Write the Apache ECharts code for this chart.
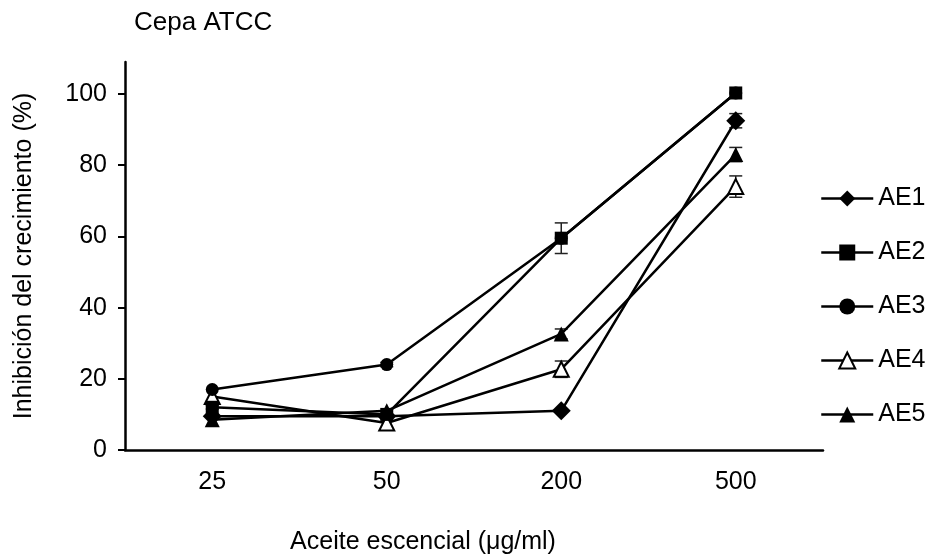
<!DOCTYPE html>
<html>
<head>
<meta charset="utf-8">
<script src="https://cdn.jsdelivr.net/npm/echarts@6/dist/echarts.min.js"></script>
<style>
html,body{margin:0;padding:0;background:#fff;}
#chart{width:933px;height:560px;}
</style>
</head>
<body>
<div id="chart"></div>
<script>
var doses = ['25', '50', '200', '500'];
var yTicks = [0, 20, 40, 60, 80, 100];

var ae1 = [9.5, 9.5, 11, 92.5];
var ae2 = [12, 10, 59.5, 100.3];
var ae3 = [17, 24, 59.5, 100.3];
var ae4 = [15, 7.6, 22.7, 74];
var ae5 = [8.5, 11, 32.6, 83];

// desviaciones (barras de error)
var ae1Err = [0, 0, 0, 2];
var ae2Err = [0.5, 0, 4.3, 0];
var ae3Err = [0, 0.6, 0, 0];
var ae4Err = [0, 0, 2.3, 3];
var ae5Err = [0, 0, 1.4, 2];

var font = 'Liberation Sans, Arial, sans-serif';

function lineSerie(name, data, symbol, size, fill, z){
	return {
		name: name,
		type: 'line',
		data: data,
		symbol: symbol,
		symbolSize: size,
		z: z,
		lineStyle: {color: '#000', width: 2.5},
		itemStyle: {color: fill, borderColor: '#000', borderWidth: fill == '#fff' ? 2 : 0},
		emphasis: {disabled: true},
		animation: false
	};
}

function errSerie(vals, errs){
	var d = [];
	for(var i = 0; i < vals.length; i++){
		if(errs[i] > 0){
			d.push([i, vals[i], errs[i]]);
		}
	}
	return {
		type: 'custom',
		data: d,
		z: 1,
		silent: true,
		animation: false,
		renderItem: function(params, api){
			var x = api.value(0), v = api.value(1), e = api.value(2);
			var top = api.coord([x, v + e]);
			var bot = api.coord([x, v - e]);
			var w = 6.5;
			var st = {stroke: '#222', lineWidth: 1.5};
			return {
				type: 'group',
				children: [
					{type: 'line', shape: {x1: top[0], y1: top[1], x2: bot[0], y2: bot[1]}, style: st},
					{type: 'line', shape: {x1: top[0] - w, y1: top[1], x2: top[0] + w, y2: top[1]}, style: st},
					{type: 'line', shape: {x1: bot[0] - w, y1: bot[1], x2: bot[0] + w, y2: bot[1]}, style: st}
				]
			};
		}
	};
}

var myChart = echarts.init(document.getElementById('chart'));

var option = {
	backgroundColor: '#fff',
	textStyle: {fontFamily: font, color: '#000'},
	title: {
		text: 'Cepa ATCC',
		left: 134,
		top: 10,
		padding: 0,
		textStyle: {fontFamily: font, fontSize: 26, fontWeight: 'normal', color: '#000'}
	},
	legend: {
		orient: 'vertical',
		left: 820,
		top: 186,
		padding: 0,
		itemWidth: 52,
		itemHeight: 20,
		itemGap: 29,
		lineStyle: {width: 2.5, color: '#000'},
		data: ['AE1', 'AE2', 'AE3', 'AE4', 'AE5'],
		textStyle: {fontFamily: font, fontSize: 25, color: '#000'}
	},
	grid: {left: 125, right: 110, top: 62, bottom: 109, containLabel: false},
	xAxis: {
		type: 'category',
		data: doses,
		boundaryGap: true,
		axisLine: {lineStyle: {color: '#000', width: 2.5}},
		axisTick: {show: false},
		axisLabel: {fontFamily: font, fontSize: 25, color: '#000', margin: 20},
		name: 'Aceite escencial (\u03bcg/ml)',
		nameLocation: 'middle',
		nameGap: 80,
		nameTextStyle: {fontFamily: font, fontSize: 25, color: '#000', padding: [0, 102, 0, 0]}
	},
	yAxis: {
		type: 'value',
		min: 0,
		max: 109,
		splitLine: {show: false},
		axisLine: {show: true, lineStyle: {color: '#000', width: 2.5}},
		axisTick: {show: true, inside: false, length: 7, lineStyle: {width: 2}, customValues: yTicks},
		axisLabel: {fontFamily: font, fontSize: 25, color: '#000', margin: 18, customValues: yTicks},
		name: 'Inhibición del crecimiento (%)',
		nameLocation: 'middle',
		nameGap: 88,
		nameTextStyle: {fontFamily: font, fontSize: 25, color: '#000'}
	},
	series: [
		lineSerie('AE1', ae1, 'diamond', 19, '#000', 2),
		lineSerie('AE2', ae2, 'rect', 13, '#000', 4),
		lineSerie('AE3', ae3, 'circle', 13, '#000', 3),
		lineSerie('AE4', ae4, 'triangle', 15, '#fff', 2),
		lineSerie('AE5', ae5, 'triangle', 15, '#000', 2),
		errSerie(ae1, ae1Err),
		errSerie(ae2, ae2Err),
		errSerie(ae3, ae3Err),
		errSerie(ae4, ae4Err),
		errSerie(ae5, ae5Err)
	]
};

myChart.setOption(option);
</script>
</body>
</html>
